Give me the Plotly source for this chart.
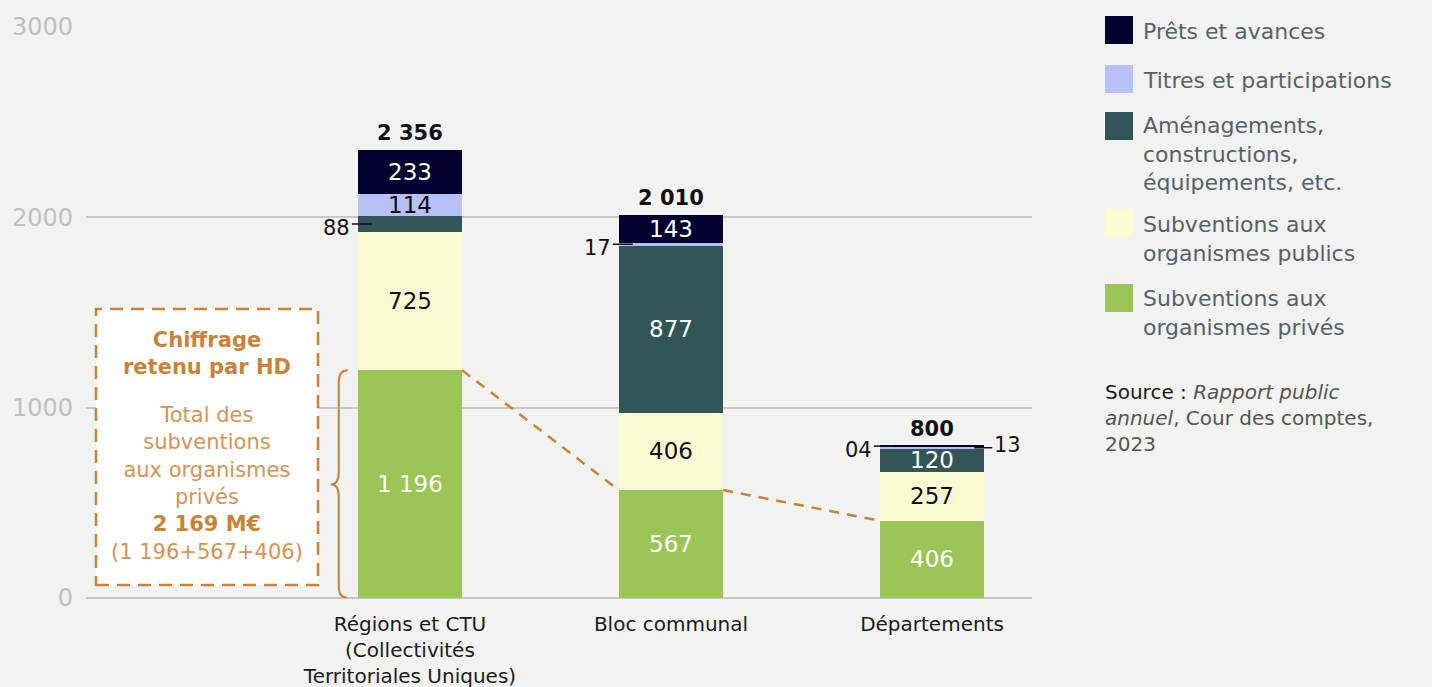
import plotly.graph_objects as go

# ---------------- data ----------------
categories = ["Régions et CTU<br>(Collectivités<br>Territoriales Uniques)", "Bloc communal", "Départements"]
series_names = ["Subventions aux organismes privés", "Subventions aux organismes publics",
                "Aménagements, constructions, équipements, etc.", "Titres et participations",
                "Prêts et avances"]
prives = [1196, 567, 406]
publics = [725, 406, 257]
amenagements = [88, 877, 120]
titres = [114, 17, 13]
prets = [233, 143, 4]
y_ticks = [0, 1000, 2000, 3000]

# ---------------- style ----------------
W, H = 1432, 687
L, R, T, B = 86, 1032, 27, 598
XMIN, XMAX = -1.241, 2.383
YMAX = 3000
BAR_W = 0.4
FONT = "DejaVu Sans"
BG = "#f2f2f0"
ORANGE = "#c8823a"
ORANGE_L = "#d39454"
colors = ["#9bc556", "#fafad2", "#325557", "#b8c0f8", "#02002e"]
text_colors = ["#ffffff", "#111111", "#ffffff", "#111111", "#ffffff"]


def px_x(px):
    return XMIN + (px - L) / (R - L) * (XMAX - XMIN)


def dx(px):
    return px / (R - L) * (XMAX - XMIN)


def dy(px):
    return px / (B - T) * YMAX


def py_y(py):
    return (B - py) / (B - T) * YMAX


def paper_x(px):
    return (px - L) / (R - L)


def paper_y(py):
    return (B - py) / (B - T)


def fmt(v):
    return f"{v:,}".replace(",", " ")


xpos = list(range(len(categories)))
all_series = [prives, publics, amenagements, titres, prets]

fig = go.Figure()
for name, vals, col, tc in zip(series_names, all_series, colors, text_colors):
    fig.add_trace(go.Bar(
        x=xpos, y=vals, width=BAR_W, name=name,
        marker=dict(color=col, line=dict(width=0)),
        text=[fmt(v) if v >= 100 else "" for v in vals],
        textposition="inside", insidetextanchor="middle", textangle=0,
        textfont=dict(color=tc, size=23, family=FONT),
        hoverinfo="skip", showlegend=False,
    ))

# dashed connector between the tops of the green bars
cx, cy = [], []
for i in range(len(categories) - 1):
    cx += [xpos[i] + BAR_W / 2, xpos[i + 1] - BAR_W / 2, None]
    cy += [prives[i], prives[i + 1], None]
fig.add_trace(go.Scatter(x=cx, y=cy, mode="lines", hoverinfo="skip", showlegend=False,
                         line=dict(color=ORANGE, width=2.5, dash="10px,8px")))

annotations = []
shapes = []

# totals
for i in xpos:
    tot = sum(s[i] for s in all_series)
    annotations.append(dict(x=i, y=tot, xref="x", yref="y", text=f"<b>{fmt(tot)}</b>",
                            showarrow=False, yanchor="bottom", yshift=3,
                            font=dict(size=21, color="#111111", family=FONT)))

# small segment labels
right_side = {(2, 3)}
for si, vals in enumerate(all_series):
    base = [sum(all_series[k][i] for k in range(si)) for i in xpos]
    for i in xpos:
        v = vals[i]
        if v >= 100:
            continue
        ym = base[i] + v / 2
        if (i, si) in right_side:
            edge = i + BAR_W / 2
            shapes.append(dict(type="line", xref="x", yref="y", x0=edge - dx(10), x1=edge + dx(8),
                               y0=ym, y1=ym, line=dict(color="#111111", width=1.5)))
            annotations.append(dict(x=edge + dx(8), y=ym, xref="x", yref="y", text=f"{v:02d}",
                                    showarrow=False, xanchor="left", yanchor="middle", yshift=3,
                                    font=dict(size=21, color="#111111", family=FONT)))
        else:
            edge = i - BAR_W / 2
            shapes.append(dict(type="line", xref="x", yref="y", x0=edge - dx(6), x1=edge + dx(14),
                               y0=ym, y1=ym, line=dict(color="#111111", width=1.5)))
            annotations.append(dict(x=edge - dx(6), y=ym, xref="x", yref="y", text=f"{v:02d}",
                                    showarrow=False, xanchor="right", yanchor="middle", yshift=-4,
                                    font=dict(size=21, color="#111111", family=FONT)))

# curly brace along the green bar of the first category
bl = xpos[0] - BAR_W / 2
xr, xm, xl = bl - dx(10), bl - dx(19), bl - dx(27)
top, bot = prives[0], 0
mid = (top + bot) / 2
r = dy(12)
path = (f"M {xr},{top} Q {xm},{top} {xm},{top - r} L {xm},{mid + r} "
        f"Q {xm},{mid} {xl},{mid} Q {xm},{mid} {xm},{mid - r} "
        f"L {xm},{bot + r} Q {xm},{bot} {xr},{bot}")
shapes.append(dict(type="path", xref="x", yref="y", path=path,
                   line=dict(color=ORANGE, width=2)))

# explanatory box
shapes.append(dict(type="rect", xref="x", yref="y", x0=px_x(96), x1=px_x(318),
                   y0=py_y(585), y1=py_y(309), fillcolor="#ffffff",
                   line=dict(color=ORANGE, width=2.5, dash="13px,8px")))
annotations.append(dict(x=paper_x(207), y=paper_y(353), xref="paper", yref="paper",
                        text="<b>Chiffrage<br>retenu par HD</b>",
                        showarrow=False, xanchor="center", yanchor="middle",
                        font=dict(size=21, color=ORANGE, family=FONT)))
annotations.append(dict(x=paper_x(207), y=paper_y(483), xref="paper", yref="paper",
                        text=("Total des<br>subventions<br>aux organismes<br>privés<br>"
                              f"<b><span style='color:{ORANGE}'>2 169 M€</span></b><br>(1 196+567+406)"),
                        showarrow=False, xanchor="center", yanchor="middle",
                        font=dict(size=21, color=ORANGE_L, family=FONT)))

# legend (drawn manually)
legend_items = [
    (4, "Prêts et avances", 30, 31),
    (3, "Titres et participations", 79, 80),
    (2, "Aménagements,<br>constructions,<br>équipements, etc.", 126, 154),
    (1, "Subventions aux<br>organismes publics", 223, 239),
    (0, "Subventions aux<br>organismes privés", 298, 313),
]
for si, txt, py0, pyt in legend_items:
    shapes.append(dict(type="rect", xref="paper", yref="paper",
                       x0=paper_x(1105), x1=paper_x(1133),
                       y0=paper_y(py0 + 14), y1=paper_y(py0 - 14),
                       fillcolor=colors[si], line=dict(width=0)))
    annotations.append(dict(x=paper_x(1141), y=paper_y(pyt), xref="paper", yref="paper",
                            text=txt, showarrow=False, xanchor="left", yanchor="middle", align="left",
                            font=dict(size=22, color="#56616b", family=FONT)))

annotations.append(dict(x=paper_x(1103), y=paper_y(418), xref="paper", yref="paper",
                        text=("<span style='color:#1a1a1a'>Source :</span> <i>Rapport public</i><br>"
                              "<i>annuel</i>, Cour des comptes,<br>2023"),
                        showarrow=False, xanchor="left", yanchor="middle", align="left",
                        font=dict(size=20, color="#555555", family=FONT)))

fig.update_layout(
    width=W, height=H, barmode="stack",
    margin=dict(l=L, r=W - R, t=T, b=H - B, autoexpand=False),
    paper_bgcolor=BG, plot_bgcolor=BG,
    uniformtext=dict(mode="show", minsize=23),
    font=dict(family=FONT),
    xaxis=dict(range=[XMIN, XMAX], tickvals=xpos, ticktext=categories, showgrid=False,
               zeroline=False, showline=False, ticks="", ticklabelstandoff=12, automargin=False,
               tickfont=dict(size=20, color="#1a1a1a", family=FONT)),
    yaxis=dict(range=[0, YMAX], tickvals=y_ticks, showgrid=True, gridcolor="#c8c8c8", gridwidth=1.5,
               zeroline=True, zerolinecolor="#c8c8c8", zerolinewidth=1.5, showline=False, ticks="",
               ticklabelstandoff=12, automargin=False,
               tickfont=dict(size=24, color="#c0c0c0", family=FONT)),
    shapes=shapes, annotations=annotations,
)

fig.write_html("out.html", config={"displayModeBar": False},
               post_script="document.body.style.margin='0';document.body.style.overflow='hidden';")
